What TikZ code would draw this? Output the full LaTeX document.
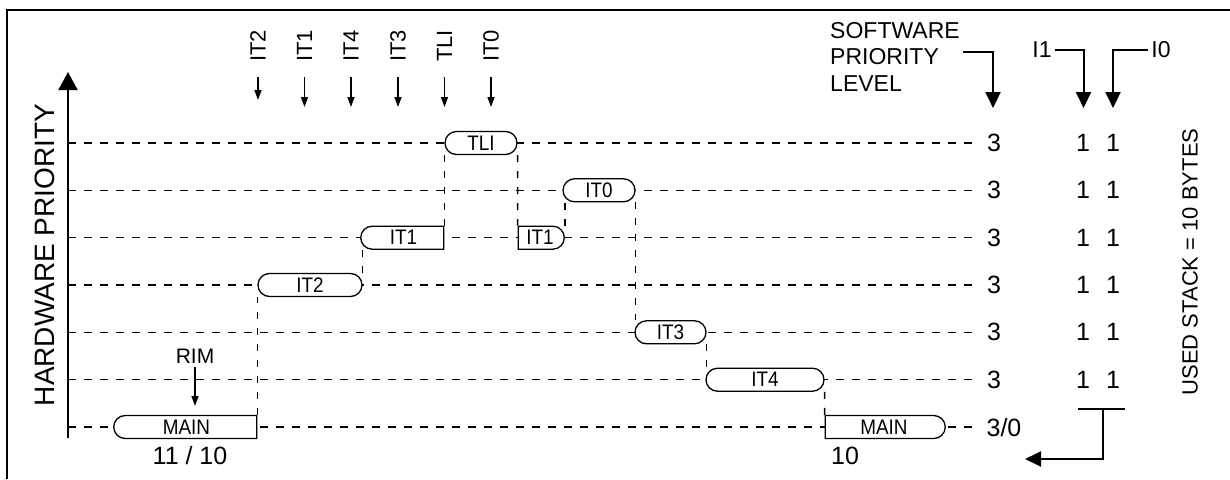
\documentclass[tikz,border=0pt]{standalone}
\usepackage{fontspec}
\setmainfont{Liberation Sans}
\newfontfamily\narrowfont[FakeStretch=0.9]{Liberation Sans}
\usetikzlibrary{arrows.meta,shapes.misc,backgrounds}
\begin{document}
\begin{tikzpicture}[x=1pt,y=-1pt,
  pbox/.style={rounded rectangle, draw, line width=1.3pt, fill=white,
    minimum height=23pt, inner sep=0pt, font=\narrowfont\fontsize{21}{24}\selectfont},
  lsq/.style={rounded rectangle west arc=none},
  rsq/.style={rounded rectangle east arc=none},
  lvl/.style={dash pattern=on 7.5pt off 8.5pt, line width=1.4pt},
  vconn/.style={dash pattern=on 7pt off 9pt, line width=1.4pt},
  num/.style={font=\fontsize{25}{28}\selectfont, inner sep=0pt},
  itlab/.style={rotate=90, font=\fontsize{22}{25}\selectfont, inner sep=0pt},
  smallarr/.style={line width=1.4pt, -{Triangle[width=7pt,length=10pt]}},
  bigarr/.style={line width=2pt, -{Triangle[width=15pt,length=16pt]}},
  hdr/.style={font=\fontsize{23}{26.5}\selectfont, inner sep=0pt},
]
\useasboundingbox (0,0) rectangle (1230,479);
% frame
\draw[line width=2pt] (7,479) -- (7,10) -- (1230,10);

% levels
\foreach \i/\yy in {1/143,2/190.3,3/237.7,4/285,5/332.3,6/379.7,7/427}{
  \coordinate (s\i) at (68,\yy);
  \coordinate (e\i) at (975,\yy);
}

% boxes
\node[pbox, minimum width=72pt] (tli) at (481,143) {TLI};
\node[pbox, minimum width=72pt] (it0) at (599,190.3) {IT0};
\node[pbox, rsq, minimum width=83pt] (it1a) at (403.5,237.7) {IT1};
\node[pbox, lsq, minimum width=46pt] (it1b) at (540,237.7) {IT1};
\node[pbox, minimum width=104pt] (it2) at (310,285) {IT2};
\node[pbox, minimum width=71pt] (it3) at (670.5,332.3) {IT3};
\node[pbox, minimum width=118pt] (it4) at (765,379.7) {IT4};
\node[pbox, rsq, minimum width=143pt] (maina) at (186.5,427) {MAIN};
\node[pbox, lsq, minimum width=120pt] (mainb) at (884,427) {MAIN};

\begin{scope}[on background layer]
\foreach \i in {1,...,7}{ \draw[lvl] (s\i) -- (e\i); }
\draw[vconn] (maina.north east) -- (maina.north east |- it2.south);
\draw[vconn] (it2.east |- it2.north) -- (it2.east |- it1a.south);
\draw[vconn] (it1a.north east) -- (it1a.north east |- tli.south);
\draw[vconn] (tli.east |- tli.south) -- (it1b.north west);
\draw[vconn] (it1b.east |- it1b.north) -- (it1b.east |- it0.south);
\draw[vconn] (it0.east |- it0.south) -- (it0.east |- it3.north);
\draw[vconn] (it3.east |- it3.south) -- (it3.east |- it4.north);
\draw[vconn] (it4.east |- it4.south) -- (mainb.north west);
\end{scope}

% axis
\coordinate (axb) at (68,438);
\coordinate (axt) at (68,72);
\draw[line width=2pt, -{Triangle[width=19pt,length=18pt]}] (axb) -- (axt);
\node[rotate=90, font=\fontsize{28}{32}\selectfont, inner sep=0pt] (hwp) at (45,255) {HARDWARE PRIORITY};

% interrupt labels
\foreach \n/\xx/\yb in {IT2/258/100,IT1/304.5/107,IT4/351/107,IT3/398/107,TLI/444.5/107,IT0/491/107}{
  \node[itlab] (l\n) at (\xx,46) {\n};
  \coordinate (ta\n) at (\xx,77);
  \coordinate (tb\n) at (\xx,\yb);
  \draw[smallarr] (ta\n) -- (tb\n);
}

% RIM
\node[font=\fontsize{21}{24}\selectfont, inner sep=0pt] (rim) at (195,356) {RIM};
\coordinate (rimtip) at (195,406);
\draw[smallarr] (rim.south) ++(0,4) coordinate (rimstart) (rimstart) -- (rimtip);

\node[num] (cnt1) at (190,456) {11 / 10};
\node[num] (cnt2) at (845,456) {10};

% right column
\foreach \i/\yy in {1/143,2/190.3,3/237.7,4/285,5/332.3,6/379.7}{
  \node[num] (sp\i) at (994,\yy) {3};
  \node[num] (ia\i) at (1083,\yy) {1};
  \node[num] (ib\i) at (1113,\yy) {1};
}
\node[num] (sp7) at (1004,428) {3/0};

% header
\node[hdr, align=left, anchor=north west, font=\fontsize{23}{26.5}\selectfont] (swl) at (830,22) {SOFTWARE\\PRIORITY\\LEVEL};
\coordinate (sws) at (963,52);
\coordinate (swt) at (993,108);
\draw[bigarr] (sws) -| (swt);

\node[hdr] (i1) at (1042,50) {I1};
\coordinate (i1t) at (1083.5,108);
\draw[bigarr] (i1.east) ++(3,0) -| (i1t);
\node[hdr] (i0) at (1161,50) {I0};
\coordinate (i0t) at (1113,108);
\draw[bigarr] (i0.west) ++(-3,0) -| (i0t);

% bracket
\coordinate (bl) at (1078,409);
\coordinate (br) at (1125,409);
\coordinate (bm) at (1103,409);
\coordinate (btip) at (1025,459);
\draw[line width=2pt] (bl) -- (br);
\draw[bigarr] (bm) |- (btip);

\node[rotate=90, font=\fontsize{22}{25}\selectfont, inner sep=0pt] (used) at (1190,262) {USED STACK = 10 BYTES};
\end{tikzpicture}
\end{document}
